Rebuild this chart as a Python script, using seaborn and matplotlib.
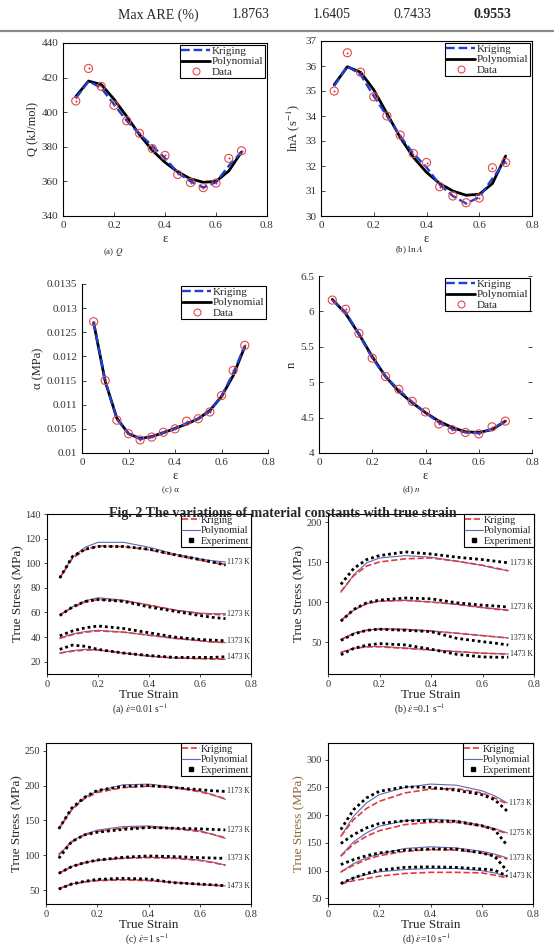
import numpy as np
import matplotlib
matplotlib.use("Agg")
import matplotlib.pyplot as plt
from matplotlib.lines import Line2D
import seaborn as sns

# ---- data ----
strain = [0.05, 0.10, 0.15, 0.20, 0.25, 0.30, 0.35, 0.40, 0.45, 0.50, 0.55, 0.60, 0.65, 0.70]

q_data = [406.5, 425.3, 414.9, 404.0, 395.0, 387.8, 379.0, 375.0, 364.0, 359.3, 356.4, 359.0, 373.3, 377.7]
q_poly = [409.0, 418.0, 416.0, 407.5, 397.5, 387.0, 378.0, 371.0, 365.5, 361.5, 359.5, 360.0, 366.0, 377.0]
q_krig = [408.0, 418.0, 414.0, 404.5, 395.0, 387.5, 380.5, 373.5, 365.0, 360.0, 356.5, 359.5, 369.0, 377.0]

lna_data = [35.0, 36.53, 35.75, 34.77, 34.0, 33.24, 32.5, 32.14, 31.17, 30.8, 30.53, 30.72, 31.93, 32.14]
lna_poly = [35.25, 35.97, 35.75, 35.05, 34.1, 33.15, 32.35, 31.75, 31.3, 31.0, 30.83, 30.87, 31.3, 32.4]
lna_krig = [35.2, 36.0, 35.65, 34.8, 34.0, 33.2, 32.5, 31.95, 31.25, 30.8, 30.5, 30.75, 31.5, 32.2]

alpha_data = [0.01272, 0.0115, 0.01068, 0.0104, 0.01027, 0.01033, 0.01043, 0.0105, 0.01066, 0.01071, 0.01085, 0.01119, 0.01171, 0.01223]
alpha_poly = [0.0127, 0.01148, 0.01072, 0.0104, 0.0103, 0.01034, 0.01042, 0.01051, 0.0106, 0.01071, 0.01088, 0.01117, 0.0116, 0.0122]
alpha_krig = [0.01271, 0.01149, 0.01070, 0.0104, 0.01029, 0.01033, 0.01043, 0.0105, 0.01062, 0.01071, 0.01086, 0.01118, 0.01165, 0.01222]

n_data = [6.16, 6.03, 5.69, 5.34, 5.08, 4.9, 4.73, 4.58, 4.41, 4.33, 4.29, 4.27, 4.37, 4.45]
n_poly = [6.17, 5.97, 5.68, 5.36, 5.08, 4.87, 4.71, 4.57, 4.45, 4.36, 4.30, 4.29, 4.33, 4.45]
n_krig = [6.16, 5.99, 5.68, 5.34, 5.08, 4.89, 4.72, 4.57, 4.43, 4.34, 4.29, 4.28, 4.34, 4.45]

are_labels = ["1.8763", "1.6405", "0.7433", "0.9553"]

flow_strain = [0.05, 0.10, 0.15, 0.20, 0.30, 0.40, 0.50, 0.60, 0.65, 0.70]

# strain rate 0.01 s^-1
exp_001 = {"1173 K": [88, 105.5, 111.4, 113.6, 113.6, 111.4, 107, 103, 101, 98.5],
           "1273 K": [57.5, 64.5, 69, 70.5, 69, 64.5, 61, 57.5, 56, 55],
           "1373 K": [41, 45, 47.5, 49, 47, 43.5, 40, 38, 37.5, 37],
           "1473 K": [30, 33.5, 32.5, 30, 27, 25, 23.5, 23.5, 23.5, 24]}
poly_001 = {"1173 K": [88, 105, 113, 117, 117, 113, 107.5, 103.5, 102, 101],
            "1273 K": [58, 64.5, 69.5, 72, 70, 66, 62, 59.5, 59, 59],
            "1373 K": [39, 42.5, 44.5, 45.5, 44, 41.5, 39, 37, 36, 35.5],
            "1473 K": [27, 29, 30, 29.5, 27, 24.5, 23, 22.5, 22.5, 22]}
krig_001 = {"1173 K": [88, 104, 111, 114, 113.5, 111, 106.5, 102.5, 100.5, 99],
            "1273 K": [58, 64, 68.5, 70.5, 69.5, 66, 62, 59, 58.5, 58],
            "1373 K": [39, 42, 44, 45, 44, 41.5, 39, 37, 36, 35.5],
            "1473 K": [27, 28.5, 29.5, 29.5, 27, 24.5, 23, 22.5, 22, 22]}

# strain rate 0.1 s^-1
exp_01 = {"1173 K": [122, 142, 153, 158, 162.6, 160, 156, 153, 151, 149],
          "1273 K": [76, 90.7, 99, 102.4, 105, 104, 99, 96, 95, 93.7],
          "1373 K": [52, 60, 64.6, 66, 64.6, 63, 54.6, 50.4, 48.5, 46.3],
          "1473 K": [34, 42, 46, 48, 46.3, 41, 34.6, 31.3, 31, 31]}
poly_01 = {"1173 K": [112, 134, 149, 155, 158, 156, 151, 145.6, 142, 139],
           "1273 K": [77, 90, 98, 101, 102, 100, 97, 93, 91.5, 90],
           "1373 K": [53, 61, 65, 66.5, 66, 64, 61, 58, 56.5, 55],
           "1473 K": [37, 42, 44, 44.5, 42.5, 40, 38, 36, 35.5, 35]}
krig_01 = {"1173 K": [113, 133, 145, 150, 154, 155, 151, 146, 142.5, 139],
           "1273 K": [77, 90, 98, 101, 102, 100, 97, 93, 91, 89.5],
           "1373 K": [53, 60.5, 64.5, 66, 65.5, 63.5, 61, 58, 56.5, 55],
           "1473 K": [37, 42, 44, 44, 42, 40, 38, 36, 35.5, 35]}

# strain rate 1 s^-1
exp_1 = {"1173 K": [137.8, 167.5, 183, 193, 198.7, 200, 197, 194, 192.5, 191.5],
         "1273 K": [95.6, 119.5, 129, 133, 137, 139.7, 138.7, 137.8, 137, 136.3],
         "1373 K": [74, 83.6, 89.3, 93, 97, 99, 98, 96.5, 96, 95.5],
         "1473 K": [51.4, 58.6, 62.5, 65.3, 66.8, 65.8, 60.5, 58.6, 57.5, 56.2]}
poly_1 = {"1173 K": [138, 166, 183, 192, 201, 202, 198, 192, 187, 180],
          "1273 K": [100, 120, 130, 136, 141, 142, 139, 135, 130, 124],
          "1373 K": [74, 84, 89.5, 93, 96, 97, 96, 93, 90, 86],
          "1473 K": [52, 59, 62, 64, 65, 64, 61, 58, 57, 56]}
krig_1 = {"1173 K": [138, 165, 181, 190, 197, 199, 197, 191, 186.5, 181],
          "1273 K": [101, 119, 129, 134, 139, 140, 138, 134, 130, 125],
          "1373 K": [74, 83.5, 89, 92.5, 95.5, 96.5, 95.5, 92.5, 89.5, 85.5],
          "1473 K": [52, 58.5, 61.5, 63.5, 64.5, 63.5, 61, 58, 57, 56]}

# strain rate 10 s^-1
exp_10 = {"1173 K": [174, 210, 231, 243, 251, 250, 245, 237, 228, 207],
          "1275 K": [149, 165, 177, 185, 190, 190, 189, 181, 174, 145],
          "1373 K": [111, 120, 127, 132, 137, 139, 139, 132, 126, 99],
          "1473 K": [77, 87, 95, 101, 106, 107, 106, 103, 101, 90]}
poly_10 = {"1173 K": [162, 198, 222, 237, 250, 256, 254, 244, 235, 222],
           "1275 K": [127, 152, 168, 180, 190, 193, 190, 182, 176, 168],
           "1373 K": [97, 113, 123, 130, 140, 143, 141, 135, 130, 123],
           "1473 K": [77, 87, 93, 98, 102, 104, 104, 100, 96, 90]}
krig_10 = {"1173 K": [162, 192, 212, 225, 240, 247, 248, 240, 231, 220],
           "1275 K": [126, 148, 162, 172, 183, 187, 187, 180, 174, 167],
           "1373 K": [98, 110, 120, 127, 135, 138, 137, 132, 127, 121],
           "1473 K": [76, 82, 86, 90, 95, 97, 97, 96, 92, 87]}

# ---- styling ----
sns.set_style("ticks")
plt.rcParams['font.family'] = ['Liberation Serif', 'DejaVu Serif']
plt.rcParams['mathtext.fontset'] = 'stix'

W, H = 554, 949
fig = plt.figure(figsize=(W / 100, H / 100), dpi=100)


def px_axes(l, t, r, b):
    return fig.add_axes([l / W, 1 - b / H, (r - l) / W, (b - t) / H])


def ftext(x, y, s, **kw):
    fig.text(x / W, 1 - y / H, s, **kw)


BLUE_K = '#1d3fd8'
RED_D = '#e8474a'
RED_K = '#e5383b'
BLUE_P = '#5a6bb5'

# table row on top
ftext(118, 15, "Max ARE (%)", fontsize=10, va='center', ha='left')
for xx, lab in zip([232, 313, 393, 473], are_labels):
    ftext(xx, 15, lab, fontsize=10, va='center', ha='left',
          fontweight='bold' if lab == are_labels[-1] else 'normal')
fig.add_artist(Line2D([0, 1], [1 - 31 / H] * 2, color='#8a8a8a', lw=1.6,
                      transform=fig.transFigure))


def const_panel(ax, data, poly, krig, ylim, yticks, ylabel, box=True, right_ticks=False):
    sns.lineplot(x=strain, y=poly, ax=ax, color='black', lw=2.0)
    sns.lineplot(x=strain, y=krig, ax=ax, color=BLUE_K, lw=1.7, linestyle='--')
    sns.scatterplot(x=strain, y=data, ax=ax, marker='o', s=34, facecolor='none',
                    edgecolor=RED_D, linewidth=0.8, zorder=5)
    sns.scatterplot(x=strain, y=data, ax=ax, marker='o', s=2, color='#a04040',
                    linewidth=0, zorder=6)
    ax.set_xlim(0, 0.8)
    ax.set_ylim(*ylim)
    ax.set_xticks([0, 0.2, 0.4, 0.6, 0.8])
    ax.set_xticklabels(['0', '0.2', '0.4', '0.6', '0.8'])
    ax.set_yticks(yticks)
    ax.set_yticklabels([f'{v:g}' for v in yticks])
    ax.tick_params(direction='in', labelsize=8, length=3, width=0.6,
                   labelcolor='#333333', right=right_ticks)
    ax.set_xlabel('ε', fontsize=9, labelpad=2)
    ax.set_ylabel(ylabel, fontsize=9, labelpad=2)
    for sp in ax.spines.values():
        sp.set_linewidth(0.8)
        sp.set_color('black')
    if not box:
        ax.spines['top'].set_visible(False)
        ax.spines['right'].set_visible(False)
    handles = [Line2D([], [], color=BLUE_K, lw=1.7, ls='--'),
               Line2D([], [], color='black', lw=2.0),
               Line2D([], [], marker='o', ls='none', mfc='none', mec=RED_D, ms=5, mew=0.8)]
    ax.legend(handles, ['Kriging', 'Polynomial', 'Data'], loc='upper right',
              fontsize=8, frameon=True, fancybox=False, edgecolor='black',
              framealpha=1, borderpad=0.15, labelspacing=0.05, handlelength=2.6,
              handletextpad=0.15, borderaxespad=0.15).get_frame().set_linewidth(0.8)


ax_a = px_axes(63, 43, 267, 216)
const_panel(ax_a, q_data, q_poly, q_krig, (340, 440), [340, 360, 380, 400, 420, 440], 'Q (kJ/mol)')
ax_b = px_axes(321, 41, 532, 216)
const_panel(ax_b, lna_data, lna_poly, lna_krig, (30, 37), [30, 31, 32, 33, 34, 35, 36, 37], 'lnA (s$^{-1}$)')
ax_c = px_axes(82, 284, 268, 453)
const_panel(ax_c, alpha_data, alpha_poly, alpha_krig, (0.01, 0.0135),
            [0.01, 0.0105, 0.011, 0.0115, 0.012, 0.0125, 0.013, 0.0135], 'α (MPa)', box=False)
ax_d = px_axes(319, 276, 532, 453)
const_panel(ax_d, n_data, n_poly, n_krig, (4, 6.5), [4, 4.5, 5, 5.5, 6, 6.5], 'n', box=False, right_ticks=True)

ftext(113, 252, '(a) $Q$', fontsize=6.5, ha='center', va='center')
ftext(410, 250, '(b) ln $A$', fontsize=6.5, ha='center', va='center')
ftext(170, 490, '(c) α', fontsize=6.5, ha='center', va='center')
ftext(412, 490, '(d) $n$', fontsize=6.5, ha='center', va='center')

ftext(283, 513, 'Fig. 2 The variations of material constants with true strain',
      fontsize=10, fontweight='bold', ha='center', va='center')


def flow_panel(ax, exp, poly, krig, ylim, yticks):
    for temp in exp:
        sns.lineplot(x=flow_strain, y=poly[temp], ax=ax, color=BLUE_P, lw=0.8)
        sns.lineplot(x=flow_strain, y=krig[temp], ax=ax, color=RED_K, lw=1.2, linestyle='--')
        sns.lineplot(x=flow_strain, y=exp[temp], ax=ax, color='black', lw=2.0,
                     linestyle=(0, (1, 1.1)))
        ylab = max(exp[temp][-1], poly[temp][-1], krig[temp][-1])
        ax.text(0.705, ylab, temp, fontsize=5.5, ha='left', va='center')
    ax.set_xlim(0, 0.8)
    ax.set_ylim(*ylim)
    ax.set_xticks([0, 0.2, 0.4, 0.6, 0.8])
    ax.set_xticklabels(['0', '0.2', '0.4', '0.6', '0.8'])
    ax.set_yticks(yticks)
    ax.tick_params(labelsize=7.5, length=2.5, width=0.6, pad=2, labelcolor='#333333')
    ax.set_xlabel('True Strain', fontsize=9.5, labelpad=0)
    ax.set_ylabel('True Stress (MPa)', fontsize=9.5, labelpad=1)
    for sp in ax.spines.values():
        sp.set_linewidth(0.8)
        sp.set_color('black')
    handles = [Line2D([], [], color=RED_K, lw=1.2, ls='--'),
               Line2D([], [], color=BLUE_P, lw=0.8),
               Line2D([], [], marker='s', ls='none', color='black', ms=2.5)]
    ax.legend(handles, ['Kriging', 'Polynomial', 'Experiment'], loc='upper right',
              fontsize=7.5, frameon=True, fancybox=False, edgecolor='black',
              framealpha=1, borderpad=0.15, labelspacing=0.1, handlelength=1.7,
              handletextpad=0.1, borderaxespad=0.0).get_frame().set_linewidth(0.8)


ax_e = px_axes(47, 514, 251, 674)
flow_panel(ax_e, exp_001, poly_001, krig_001, (10, 140), [20, 40, 60, 80, 100, 120, 140])
ax_f = px_axes(328, 514, 534, 674)
flow_panel(ax_f, exp_01, poly_01, krig_01, (10, 210), [50, 100, 150, 200])
ax_g = px_axes(46, 743, 251, 904)
flow_panel(ax_g, exp_1, poly_1, krig_1, (30, 261), [50, 100, 150, 200, 250])
ax_h = px_axes(328, 743, 533, 904)
flow_panel(ax_h, exp_10, poly_10, krig_10, (40, 330), [50, 100, 150, 200, 250, 300])
ax_h.yaxis.label.set_color('#8a6a3a')

ftext(140, 709, r'(a) $\dot{\varepsilon}$=0.01 s$^{-1}$', fontsize=7, ha='center', va='center')
ftext(420, 709, r'(b) $\dot{\varepsilon}$=0.1 s$^{-1}$', fontsize=7, ha='center', va='center')
ftext(147, 939, r'(c) $\dot{\varepsilon}$=1 s$^{-1}$', fontsize=7, ha='center', va='center')
ftext(427, 939, r'(d) $\dot{\varepsilon}$=10 s$^{-1}$', fontsize=7, ha='center', va='center')

fig.savefig('out.png', dpi=100)
